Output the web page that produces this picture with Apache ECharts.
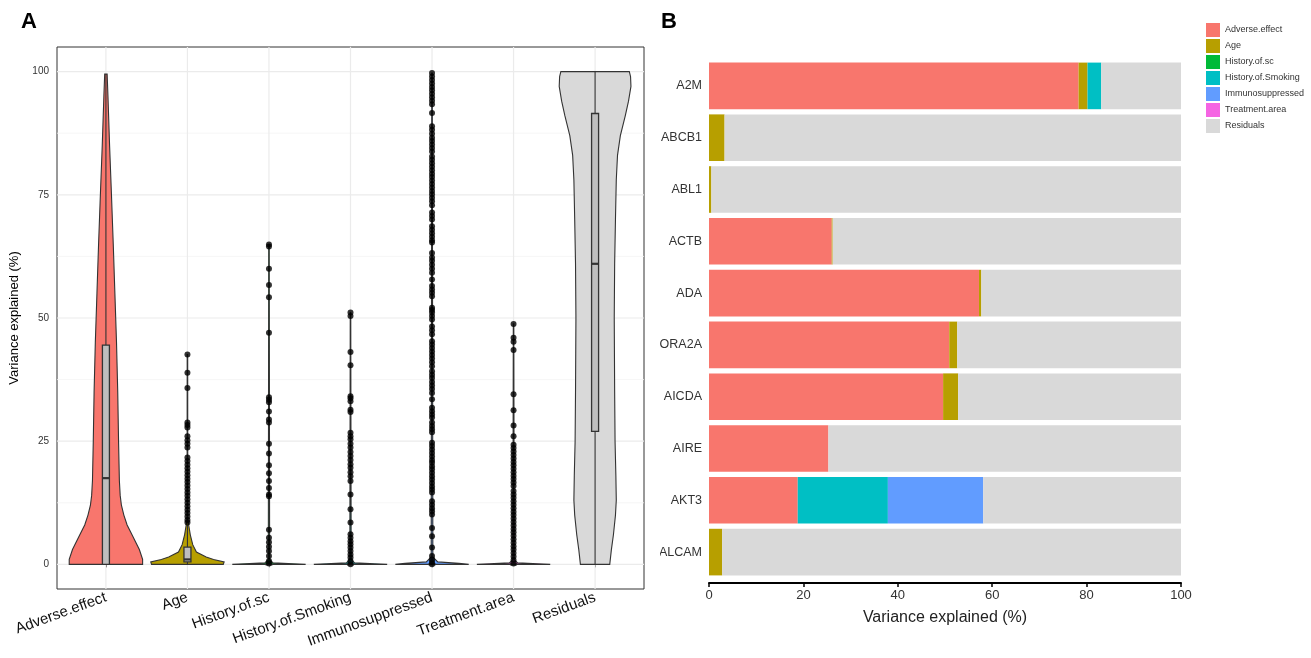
<!DOCTYPE html>
<html>
<head>
<meta charset="utf-8">
<script src="https://cdn.jsdelivr.net/npm/echarts@6/dist/echarts.min.js"></script>
<style>
  html, body { margin: 0; padding: 0; background: #fff; }
  #violin { position: absolute; left: 0; top: 0; width: 660px; height: 658px; }
  #bars { position: absolute; left: 660px; top: 0; width: 651px; height: 658px; }
</style>
</head>
<body>
<div id="violin"></div>
<div id="bars"></div>
<script>
// ---- panel A data ----
var terms = ['Adverse.effect', 'Age', 'History.of.sc', 'History.of.Smoking', 'Immunosuppressed', 'Treatment.area', 'Residuals'];
var termColors = ['#F8766D', '#B79F00', '#00BA38', '#00BFC4', '#619CFF', '#F564E3', '#D9D9D9'];
var yTicks = [0, 25, 50, 75, 100];
var yMinor = [12.5, 37.5, 62.5, 87.5];

// violin outline: [value, half width in category units]
var adverseProfile = [[0,0.45],[1,0.45],[3,0.41],[6,0.32],[8,0.26],[10,0.22],[12,0.19],[14,0.175],[17,0.165],[25,0.155],[35,0.145],[45,0.13],[55,0.11],[65,0.09],[75,0.068],[85,0.045],[95,0.025],[99.5,0.015]];
var ageProfile = [[0,0.44],[0.5,0.45],[1,0.32],[1.5,0.23],[2.5,0.11],[4,0.065],[6,0.035],[8,0.015],[9,0.004],[42.6,0.003]];
var scProfile = [[0,0.45],[0.1,0.3],[0.3,0.05],[1,0.008],[64.9,0.003]];
var smokingProfile = [[0,0.45],[0.1,0.3],[0.3,0.05],[1,0.008],[51.1,0.003]];
var immunoProfile = [[0,0.45],[0.2,0.33],[0.5,0.07],[1.5,0.01],[99.7,0.003]];
var treatmentProfile = [[0,0.45],[0.1,0.3],[0.3,0.05],[1,0.008],[48.8,0.003]];
var residualProfile = [[0,0.18],[3,0.2],[6,0.225],[10,0.25],[13,0.26],[18,0.255],[25,0.245],[35,0.24],[50,0.235],[61,0.24],[70,0.25],[78,0.26],[83,0.275],[87,0.31],[91,0.37],[94,0.41],[97,0.44],[99,0.435],[100,0.42]];
var profiles = [adverseProfile, ageProfile, scProfile, smokingProfile, immunoProfile, treatmentProfile, residualProfile];

// box stats: [lower whisker, Q1, median, Q3, upper whisker]
var boxes = [
  [0, 0, 17.5, 44.5, 99.5],
  [0, 0.5, 1, 3.5, 8],
  [0, 0, 0, 0, 0],
  [0, 0, 0, 0, 0],
  [0, 0, 0, 0, 0],
  [0, 0, 0, 0, 0],
  [0, 27, 61, 91.5, 100]
];

// outlier points
var ageOut = [42.6,38.9,35.8,28.8,28.3,27.8,26,25.2,24.5,23.7,21.7,21,20.2,19.5,18.8,18.1,17.4,16.7,16,15.3,14.6,13.9,13.2,12.5,11.8,11.1,10.4,9.7,9,8.5];
var scOut = [64.9,64.5,60.0,56.7,54.2,47.0,33.9,33.4,32.9,31.0,29.4,28.8,24.5,22.5,20.1,18.5,16.9,15.5,14.2,13.8,7.0,5.4,4.5,3.6,2.7,1.7,0.7,0.2];
var smokingOut = [51.1,50.4,43.1,40.4,34.1,33.7,33.1,31.4,30.9,26.7,26.0,25.4,24.5,23.7,22.8,22.0,21.2,20.3,19.6,18.7,17.9,16.9,14.2,11.2,8.5,6.1,5.4,4.7,4.1,3.4,2.7,2.0,1.4,0.7,0];
var immunoOut = [99.7,99.0,98.3,97.6,96.9,96.2,95.5,94.8,94.1,93.4,91.6,88.9,88.2,87.4,86.6,85.9,85.2,84.5,83.8,82.8,82.1,81.4,80.7,80.0,79.3,78.6,77.9,77.2,76.5,75.8,75.1,74.4,73.7,72.9,71.4,70.7,70.0,68.6,67.9,67.2,66.5,65.8,65.3,63.2,62.3,61.6,60.8,60.0,59.2,57.8,56.5,55.8,55.1,54.4,52.1,51.6,51.1,50.4,49.7,48.3,47.5,46.7,45.3,44.6,43.9,43.2,42.5,41.8,41.0,40.2,39.2,38.5,37.8,37.0,36.3,35.6,34.8,33.5,31.8,31.1,30.4,29.8,28.8,28.1,27.4,26.8,24.7,24.0,23.3,22.6,21.9,21.2,20.6,19.9,19.3,18.6,17.9,17.2,16.5,15.8,15.2,14.6,12.8,12.1,11.4,10.8,10.1,7.4,5.7,3.4,1.7,1.0,0.5,0];
var treatmentOut = [48.8,46.0,45.2,43.5,34.5,31.3,28.2,26.0,24.3,23.6,22.9,22.2,21.5,20.8,20.1,19.4,18.7,18.0,17.3,16.6,15.9,14.9,14.2,13.5,12.8,12.1,11.4,10.7,10.0,9.3,8.6,7.9,7.2,6.5,5.8,5.1,4.4,3.7,3.0,2.3,1.6,0.9,0.2];
var outliers = [[], ageOut, scOut, smokingOut, immunoOut, treatmentOut, []];

// ---- panel B data ----
var genes = ['A2M', 'ABCB1', 'ABL1', 'ACTB', 'ADA', 'ADORA2A', 'AICDA', 'AIRE', 'AKT3', 'ALCAM'];
var adverseVar   = [78.3, 0, 0, 26.0, 57.2, 50.9, 49.6, 25.3, 18.8, 0];
var ageVar       = [1.9, 3.3, 0.5, 0.2, 0.5, 1.7, 3.2, 0, 0, 2.8];
var scVar        = [0, 0, 0, 0, 0, 0, 0, 0, 0, 0];
var smokingVar   = [2.9, 0, 0, 0, 0, 0, 0, 0, 19.1, 0];
var immunoVar    = [0, 0, 0, 0, 0, 0, 0, 0, 20.2, 0];
var treatmentVar = [0, 0, 0, 0, 0, 0, 0, 0, 0, 0];
var residualVar  = [16.9, 96.7, 99.5, 73.8, 42.3, 47.4, 47.2, 74.7, 41.9, 97.2];
var barSeries = [adverseVar, ageVar, scVar, smokingVar, immunoVar, treatmentVar, residualVar];

var font = 'Liberation Sans, Arial, sans-serif';

// ---------- panel A ----------
var chartA = echarts.init(document.getElementById('violin'));
var catIdx = terms.map(function (t, i) { return i; });

// panel grid lines (major y, minor y, category x)
var gridDefs = [];
yTicks.forEach(function (v) { gridDefs.push(['y', v, '#EBEBEB', 1.2]); });
yMinor.forEach(function (v) { gridDefs.push(['y', v, '#F4F4F4', 0.8]); });
catIdx.forEach(function (i) { gridDefs.push(['x', i, '#EBEBEB', 1.2]); });

var pointData = [];
outliers.forEach(function (arr, i) {
  arr.forEach(function (v) { pointData.push([i, v]); });
});

chartA.setOption({
  animation: false,
  title: { text: 'A', left: 21, top: 11, padding: 0, textStyle: { fontSize: 22, fontWeight: 'bold', color: '#000', fontFamily: font } },
  grid: { left: 57, right: 16, top: 47, bottom: 69, show: true, borderColor: '#333', borderWidth: 1, backgroundColor: '#fff', outerBoundsMode: 'none' },
  xAxis: {
    type: 'value', min: -0.6, max: 6.6,
    axisLine: { show: false },
    splitLine: { show: false },
    axisTick: { show: true, customValues: catIdx, length: 3, lineStyle: { color: '#333' } },
    axisLabel: {
      customValues: catIdx, rotate: 20, margin: 8, fontSize: 15, color: '#111', fontFamily: font,
      formatter: function (v) { return terms[Math.round(v)]; }
    }
  },
  yAxis: {
    type: 'value', min: -5, max: 105,
    name: 'Variance explained (%)', nameLocation: 'middle', nameGap: 30,
    nameTextStyle: { fontSize: 13, color: '#000', fontFamily: font },
    axisLine: { show: false },
    splitLine: { show: false },
    axisTick: { show: true, customValues: yTicks, length: 3, lineStyle: { color: '#333' } },
    axisLabel: { customValues: yTicks, fontSize: 10, color: '#333', margin: 8, fontFamily: font }
  },
  series: [
    {
      type: 'custom', name: 'gridlines', z: 1, silent: true,
      data: gridDefs.map(function (d, k) { return [k, 0]; }),
      renderItem: function (params, api) {
        var d = gridDefs[params.dataIndex], p1, p2;
        if (d[0] === 'y') { p1 = api.coord([-0.6, d[1]]); p2 = api.coord([6.6, d[1]]); }
        else { p1 = api.coord([d[1], -5]); p2 = api.coord([d[1], 105]); }
        return { type: 'line', shape: { x1: p1[0], y1: p1[1], x2: p2[0], y2: p2[1] }, style: { stroke: d[2], lineWidth: d[3] } };
      }
    },
    {
      type: 'custom', name: 'violin', z: 3, clip: false,
      data: catIdx.map(function (i) { return [i, 0]; }),
      renderItem: function (params, api) {
        var i = params.dataIndex, prof = profiles[i], pts = [], k;
        for (k = 0; k < prof.length; k++) pts.push(api.coord([i + prof[k][1], prof[k][0]]));
        for (k = prof.length - 1; k >= 0; k--) pts.push(api.coord([i - prof[k][1], prof[k][0]]));
        return { type: 'polygon', shape: { points: pts }, style: { fill: termColors[i], stroke: '#333', lineWidth: 1.1 } };
      }
    },
    {
      type: 'custom', name: 'box', z: 4, clip: false,
      data: catIdx.map(function (i) { return [i, boxes[i][2]]; }),
      renderItem: function (params, api) {
        var i = params.dataIndex, b = boxes[i];
        var lo = api.coord([i, b[0]]), q1 = api.coord([i, b[1]]), md = api.coord([i, b[2]]);
        var q3 = api.coord([i, b[3]]), hi = api.coord([i, b[4]]);
        var x = md[0], hw = 3.5;
        var ln = { stroke: '#333', lineWidth: 1.1 };
        return {
          type: 'group',
          children: [
            { type: 'line', shape: { x1: x, y1: lo[1], x2: x, y2: q1[1] }, style: ln },
            { type: 'line', shape: { x1: x, y1: q3[1], x2: x, y2: hi[1] }, style: ln },
            { type: 'rect', shape: { x: x - hw, y: q3[1], width: hw * 2, height: q1[1] - q3[1] },
              style: { fill: '#BEBEBE', stroke: '#333', lineWidth: 1.3 } },
            { type: 'line', shape: { x1: x - hw, y1: md[1], x2: x + hw, y2: md[1] }, style: { stroke: '#333', lineWidth: 2.2 } }
          ]
        };
      }
    },
    {
      type: 'scatter', name: 'outliers', z: 5, clip: false,
      symbolSize: 6, itemStyle: { color: '#000' },
      data: pointData
    }
  ]
});

// ---------- panel B ----------
var chartB = echarts.init(document.getElementById('bars'));

chartB.setOption({
  animation: false,
  title: { text: 'B', left: 1, top: 11, padding: 0, textStyle: { fontSize: 22, fontWeight: 'bold', color: '#000', fontFamily: font } },
  color: termColors,
  legend: {
    orient: 'vertical', left: 546, top: 23, padding: 0,
    itemWidth: 14, itemHeight: 14, itemGap: 2, icon: 'rect',
    textStyle: { fontSize: 9, color: '#333', fontFamily: font },
    data: terms
  },
  grid: { left: 49, right: 130, top: 60, bottom: 80, outerBoundsMode: 'none' },
  xAxis: {
    type: 'value', min: 0, max: 100, interval: 20, offset: 5,
    name: 'Variance explained (%)', nameLocation: 'middle', nameGap: 27,
    nameTextStyle: { fontSize: 16, color: '#222', fontFamily: font },
    axisLine: { show: true, lineStyle: { color: '#000', width: 2 } },
    axisTick: { show: true, length: 4, lineStyle: { color: '#000', width: 1.5 } },
    axisLabel: { fontSize: 13, color: '#333', margin: 6, fontFamily: font },
    splitLine: { show: false }
  },
  yAxis: {
    type: 'category', data: genes, inverse: true,
    axisLine: { show: false }, axisTick: { show: false },
    axisLabel: { fontSize: 12.5, color: '#333', margin: 7, fontFamily: font }
  },
  series: barSeries.map(function (vals, i) {
    return {
      type: 'bar', name: terms[i], stack: 'var', data: vals,
      barCategoryGap: '10%',
      itemStyle: { color: termColors[i] }
    };
  })
});
</script>
</body>
</html>
